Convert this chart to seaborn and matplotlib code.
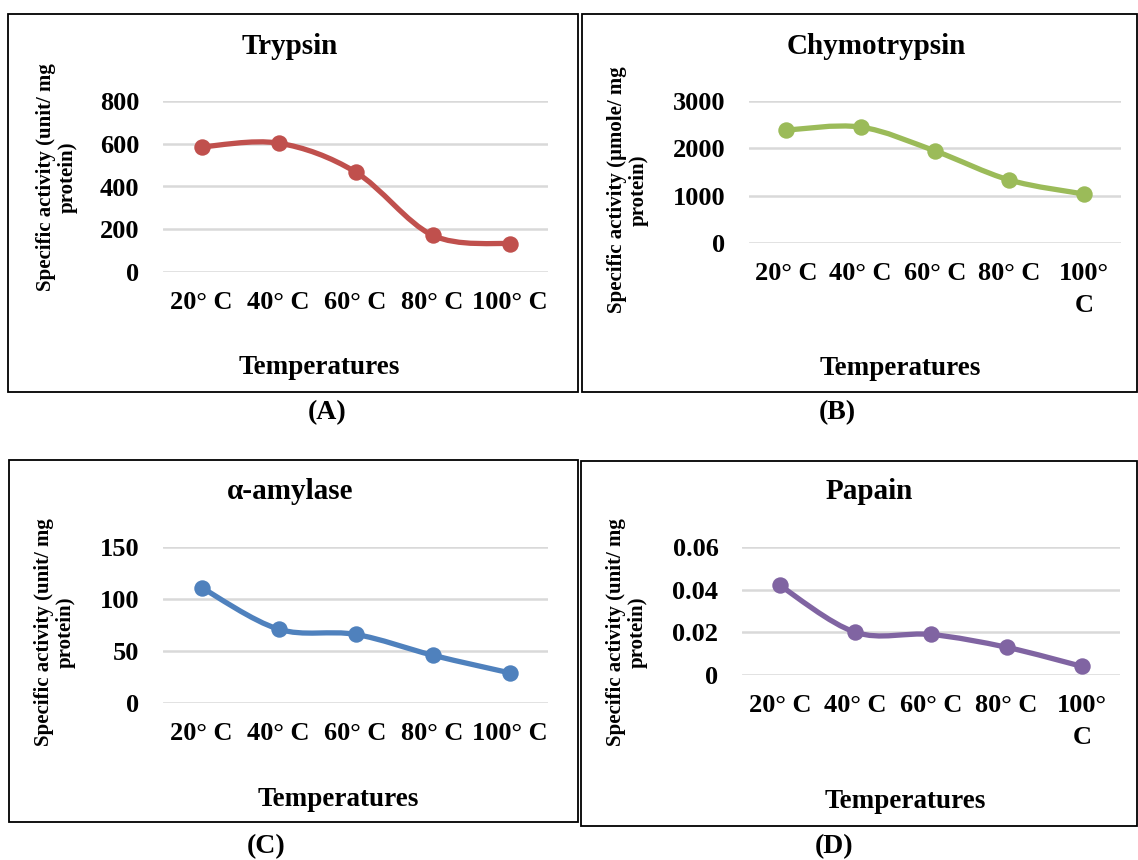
import matplotlib
matplotlib.use("Agg")
import matplotlib.pyplot as plt
from matplotlib.path import Path
from matplotlib.patches import PathPatch, Rectangle
import seaborn as sns
import pandas as pd

# données
temperatures = ["20° C", "40° C", "60° C", "80° C", "100° C"]
temperatures_wrap = ["20° C", "40° C", "60° C", "80° C", "100°\nC"]
trypsin = [585, 603, 468, 172, 132]
chymotrypsin = [2385, 2450, 1945, 1330, 1035]
amylase = [111, 71, 66, 46, 29]
papain = [0.042, 0.020, 0.019, 0.013, 0.004]

W, H = 1138, 860

sns.set_theme(style="white")
plt.rcParams['font.family'] = ['Liberation Serif', 'DejaVu Serif']
plt.rcParams['font.weight'] = 'bold'
plt.rcParams['text.color'] = 'black'
plt.rcParams['xtick.color'] = 'black'
plt.rcParams['ytick.color'] = 'black'

fig = plt.figure(figsize=(W / 100, H / 100), dpi=100)


def fx(px):
    return px / W


def fy(py):
    return 1 - py / H


def smooth_path(xs, ys):
    # courbe de Bezier "lissée" façon Excel, à partir des points de données
    pts = list(zip(xs, ys))
    n = len(pts)
    verts = [pts[0]]
    codes = [Path.MOVETO]
    for i in range(n - 1):
        p0 = pts[i - 1] if i > 0 else pts[i]
        p1 = pts[i]
        p2 = pts[i + 1]
        p3 = pts[i + 2] if i + 2 < n else pts[i + 1]
        c1 = (p1[0] + (p2[0] - p0[0]) / 6, p1[1] + (p2[1] - p0[1]) / 6)
        c2 = (p2[0] - (p3[0] - p1[0]) / 6, p2[1] - (p3[1] - p1[1]) / 6)
        verts += [c1, c2, p2]
        codes += [Path.CURVE4] * 3
    return Path(verts, codes)


def panel(box, axbox, values, labels, ymax, yticks, ytick_fmt, color,
          title, ylabel, letter, title_xy, xlab_xy, ylab_x, ylab_y, letter_xy):
    # cadre du panneau
    x0, y0, x1, y1 = box
    fig.patches.append(Rectangle((fx(x0), fy(y1)), fx(x1 - x0), (y1 - y0) / H,
                                 transform=fig.transFigure, fill=False,
                                 edgecolor='black', linewidth=1.3))
    ax0, ay0, ax1, ay1 = axbox
    ax = fig.add_axes([fx(ax0), fy(ay1), fx(ax1 - ax0), (ay1 - ay0) / H])
    df = pd.DataFrame({'pos': range(len(values)), 'val': values})
    ax.add_patch(PathPatch(smooth_path(df['pos'], df['val']), fill=False,
                           edgecolor=color, linewidth=3.8, capstyle='round', zorder=3))
    sns.scatterplot(data=df, x='pos', y='val', color=color, s=140,
                    edgecolor=color, linewidth=0, ax=ax, zorder=4)
    ax.set_xlim(-0.5, len(values) - 0.5)
    ax.set_ylim(0, ymax)
    ax.set_yticks(yticks)
    ax.set_yticklabels([ytick_fmt(v) for v in yticks], fontsize=19, fontweight='bold')
    ax.set_xticks(range(len(labels)))
    ax.set_xticklabels(labels, fontsize=19, fontweight='bold', linespacing=1.5)
    ax.tick_params(axis='y', length=0, pad=17)
    ax.tick_params(axis='x', length=0, pad=14)
    ax.grid(axis='y', color='#d9d9d9', linewidth=1.8)
    ax.grid(axis='x', visible=False)
    for s in ax.spines.values():
        s.set_visible(False)
    ax.set_xlabel('')
    ax.set_ylabel('')
    ax.patch.set_alpha(0)

    fig.text(fx(title_xy[0]), fy(title_xy[1]), title, ha='center', va='center',
             fontsize=21, fontweight='bold')
    fig.text(fx(xlab_xy[0]), fy(xlab_xy[1]), 'Temperatures', ha='center', va='center',
             fontsize=19.5, fontweight='bold')
    fig.text(fx(ylab_x), fy(ylab_y), ylabel, ha='center', va='center', rotation=90,
             fontsize=15, fontweight='bold', linespacing=1.15, multialignment='center')
    fig.text(fx(letter_xy[0]), fy(letter_xy[1]), letter, ha='center', va='center',
             fontsize=20, fontweight='bold')
    return ax


panel((8, 14, 578, 392), (163, 101, 548, 272), trypsin, temperatures, 800,
      [0, 200, 400, 600, 800], lambda v: f"{v:g}", '#c0504d',
      'Trypsin', 'Specific activity (unit/ mg\nprotein)', '(A)',
      (290, 46), (319, 367), 57, 177, (327, 413))

panel((582, 14, 1137, 392), (749, 101, 1121, 243), chymotrypsin, temperatures_wrap, 3000,
      [0, 1000, 2000, 3000], lambda v: f"{v:g}", '#9bbb59',
      'Chymotrypsin', 'Specific activity (µmole/ mg\nprotein)', '(B)',
      (876, 47), (900, 369), 628, 190, (837, 413))

panel((9, 460, 578, 822), (163, 547, 548, 703), amylase, temperatures, 150,
      [0, 50, 100, 150], lambda v: f"{v:g}", '#4f81bd',
      'α-amylase', 'Specific activity (unit/ mg\nprotein)', '(C)',
      (290, 492), (338, 800), 55, 632, (266, 847))

panel((581, 461, 1137, 826), (742, 547, 1120, 675), papain, temperatures_wrap, 0.06,
      [0, 0.02, 0.04, 0.06], lambda v: f"{v:g}", '#8064a2',
      'Papain', 'Specific activity (unit/ mg\nprotein)', '(D)',
      (869, 492), (905, 802), 627, 632, (834, 847))

fig.savefig('out.png', dpi=100)
